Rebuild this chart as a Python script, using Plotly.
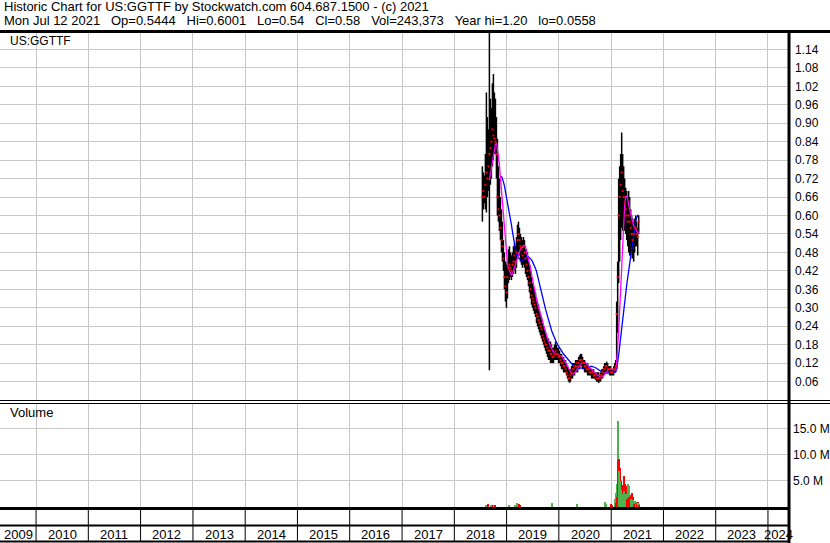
import pandas as pd
import plotly.graph_objects as go

# ---------------- data ----------------
start_date = "2018-07-16"   # first weekly bar; one bar per week

high = [0.76, 0.74, 0.73, 0.80, 1.00, 0.92, 0.88, 1.20, 0.98, 0.95,
        1.03, 1.06, 1.00, 0.98, 0.92, 0.85, 0.76, 0.72, 0.66, 0.62,
        0.58, 0.52, 0.48, 0.45, 0.44, 0.45, 0.49, 0.50, 0.48, 0.47,
        0.48, 0.50, 0.51, 0.50, 0.53, 0.57, 0.58, 0.56, 0.54, 0.53,
        0.52, 0.53, 0.52, 0.50, 0.49, 0.48, 0.46, 0.44, 0.42, 0.40,
        0.38, 0.37, 0.36, 0.35, 0.33, 0.32, 0.31, 0.29, 0.28, 0.27,
        0.25, 0.24, 0.23, 0.22, 0.21, 0.20, 0.20, 0.19, 0.19, 0.18,
        0.17, 0.17, 0.18, 0.19, 0.18, 0.17, 0.17, 0.16, 0.15, 0.15,
        0.14, 0.14, 0.13, 0.13, 0.12, 0.11, 0.10, 0.10, 0.10, 0.11,
        0.12, 0.12, 0.12, 0.13, 0.13, 0.13, 0.14, 0.145, 0.15, 0.15,
        0.14, 0.13, 0.13, 0.12, 0.12, 0.12, 0.11, 0.11, 0.10, 0.10,
        0.10, 0.10, 0.09, 0.09, 0.09, 0.09, 0.09, 0.08, 0.09, 0.10,
        0.10, 0.11, 0.12, 0.12, 0.125, 0.12, 0.11, 0.11, 0.11, 0.10,
        0.10, 0.11, 0.12, 0.13, 0.32, 0.45, 0.72, 0.76, 0.80, 0.87,
        0.80, 0.76, 0.72, 0.69, 0.68, 0.66, 0.68, 0.66, 0.62, 0.60,
        0.59, 0.58, 0.59, 0.60, 0.58, 0.56, 0.60]

low = [0.58, 0.62, 0.64, 0.62, 0.61, 0.66, 0.68, 0.097, 0.70, 0.72,
       0.76, 0.78, 0.80, 0.80, 0.72, 0.60, 0.58, 0.55, 0.52, 0.48,
       0.45, 0.42, 0.36, 0.32, 0.30, 0.33, 0.38, 0.39, 0.40, 0.39,
       0.40, 0.41, 0.42, 0.41, 0.43, 0.46, 0.48, 0.47, 0.45, 0.44,
       0.43, 0.44, 0.43, 0.41, 0.40, 0.39, 0.37, 0.35, 0.33, 0.31,
       0.30, 0.29, 0.28, 0.27, 0.25, 0.24, 0.23, 0.22, 0.21, 0.20,
       0.19, 0.18, 0.17, 0.16, 0.15, 0.14, 0.13, 0.13, 0.12, 0.12,
       0.12, 0.12, 0.13, 0.13, 0.13, 0.13, 0.12, 0.12, 0.11, 0.10,
       0.10, 0.09, 0.09, 0.09, 0.08, 0.07, 0.06, 0.056, 0.06, 0.07,
       0.07, 0.08, 0.08, 0.09, 0.09, 0.09, 0.10, 0.10, 0.11, 0.11,
       0.10, 0.10, 0.09, 0.09, 0.09, 0.08, 0.08, 0.08, 0.08, 0.07,
       0.07, 0.07, 0.07, 0.065, 0.06, 0.06, 0.055, 0.06, 0.06, 0.07,
       0.07, 0.08, 0.09, 0.09, 0.09, 0.09, 0.09, 0.08, 0.08, 0.08,
       0.08, 0.08, 0.09, 0.09, 0.10, 0.22, 0.38, 0.45, 0.52, 0.56,
       0.55, 0.56, 0.55, 0.54, 0.52, 0.50, 0.48, 0.47, 0.46, 0.48,
       0.46, 0.45, 0.48, 0.50, 0.50, 0.47, 0.54]

close = [0.66, 0.68, 0.66, 0.70, 0.74, 0.72, 0.76, 0.80, 0.82, 0.84,
         0.88, 0.86, 0.85, 0.84, 0.80, 0.66, 0.62, 0.60, 0.56, 0.52,
         0.50, 0.46, 0.40, 0.37, 0.35, 0.40, 0.43, 0.44, 0.43, 0.42,
         0.44, 0.45, 0.47, 0.45, 0.48, 0.52, 0.54, 0.52, 0.50, 0.49,
         0.47, 0.50, 0.48, 0.46, 0.44, 0.42, 0.40, 0.38, 0.36, 0.34,
         0.33, 0.32, 0.31, 0.30, 0.28, 0.27, 0.26, 0.25, 0.24, 0.23,
         0.21, 0.20, 0.19, 0.18, 0.18, 0.17, 0.16, 0.16, 0.15, 0.15,
         0.14, 0.14, 0.15, 0.16, 0.15, 0.15, 0.14, 0.14, 0.13, 0.12,
         0.12, 0.11, 0.11, 0.10, 0.09, 0.08, 0.07, 0.07, 0.08, 0.09,
         0.10, 0.10, 0.11, 0.11, 0.12, 0.11, 0.12, 0.13, 0.13, 0.13,
         0.12, 0.12, 0.11, 0.11, 0.10, 0.10, 0.10, 0.09, 0.09, 0.09,
         0.09, 0.08, 0.08, 0.08, 0.07, 0.07, 0.07, 0.07, 0.08, 0.08,
         0.09, 0.10, 0.10, 0.11, 0.11, 0.10, 0.10, 0.10, 0.09, 0.09,
         0.09, 0.10, 0.10, 0.11, 0.28, 0.40, 0.60, 0.66, 0.70, 0.74,
         0.68, 0.66, 0.64, 0.62, 0.60, 0.58, 0.60, 0.58, 0.56, 0.54,
         0.52, 0.54, 0.56, 0.56, 0.54, 0.53, 0.58]

# volume in millions of shares, split into up-day and down-day volume
vol_up = [0, 0, 0, 0, 0.3, 0, 0, 0, 0, 0.4,
          0, 0, 0.3, 0, 0, 0, 0, 0, 0, 0,
          0, 0, 0, 0, 0, 0, 0, 0.3, 0, 0,
          0, 0, 0, 0.3, 0, 0.7, 0, 0, 0, 0,
          0, 0, 0, 0, 0, 0, 0, 0, 0, 0,
          0, 0, 0, 0, 0, 0, 0, 0, 0, 0,
          0, 0, 0, 0, 0, 0, 0, 0, 0, 0,
          0.8, 0, 0, 0, 0, 0, 0, 0, 0, 0,
          0, 0, 0, 0, 0, 0, 0, 0, 0, 0,
          0, 0, 0, 0, 0, 0.6, 0, 0, 0, 0,
          0, 0, 0, 0, 0, 0, 0, 0, 0, 0,
          0, 0, 0, 0, 0, 0, 0, 0, 0, 0,
          0, 0, 1.0, 0.5, 0, 0, 0, 0, 0, 0,
          0, 0, 1.5, 2.7, 4.4, 16.5, 7.0, 5.0, 3.3, 2.5,
          2.0, 3.0, 1.5, 2.5, 2.0, 4.4, 4.0, 2.4, 1.5, 1.0,
          1.4, 0.8, 1.2, 0.5, 1.0, 0.8, 0.5]

vol_down = [0, 0, 0, 0, 0, 0, 0.6, 0, 0, 0,
            0, 0.4, 0, 0.4, 0, 0, 0, 0, 0, 0,
            0, 0, 0, 0, 0, 0, 0, 0, 0, 0,
            0, 0, 0, 0, 0, 0, 0, 0.5, 0.4, 0,
            0, 0, 0, 0, 0, 0, 0, 0, 0, 0,
            0, 0, 0, 0, 0, 0, 0, 0, 0, 0,
            0, 0, 0, 0, 0, 0, 0, 0, 0, 0,
            0, 0, 0, 0, 0, 0, 0, 0, 0, 0,
            0, 0, 0, 0, 0, 0, 0, 0, 0, 0,
            0, 0, 0, 0, 0, 0, 0, 0, 0, 0,
            0, 0, 0, 0, 0, 0, 0, 0, 0, 0,
            0, 0, 0, 0, 0, 0, 0, 0, 0, 0,
            0, 0, 0, 0, 0, 0, 0, 0, 0.6, 0.3,
            0, 0, 0, 0.8, 2.0, 9.0, 9.2, 7.5, 5.0, 4.3,
            3.0, 5.9, 4.5, 4.0, 1.5, 1.0, 2.0, 1.5, 2.4, 2.7,
            2.0, 0.6, 0.5, 0.8, 0.6, 1.0, 0.3]

price_ticks = [0.06, 0.12, 0.18, 0.24, 0.30, 0.36, 0.42, 0.48, 0.54, 0.60,
               0.66, 0.72, 0.78, 0.84, 0.90, 0.96, 1.02, 1.08, 1.14]
vol_ticks = [5, 10, 15]
vol_tick_labels = ["5.0 M", "10.0 M", "15.0 M"]
years = list(range(2009, 2025))

symbol = "US:GGTTF"
header_line1 = "Historic Chart for US:GGTTF by Stockwatch.com 604.687.1500 - (c) 2021"
header_fields = ["Mon Jul 12 2021", "Op=0.5444", "Hi=0.6001", "Lo=0.54", "Cl=0.58",
                 "Vol=243,373", "Year hi=1.20", "lo=0.0558"]

short_ma_weeks = 8
long_ma_weeks = 20

# ---------------- layout helpers ----------------
W, H = 830, 543
FONT = "Arial, Liberation Sans, sans-serif"
UP_COLOR = "#4db34d"
DOWN_COLOR = "#ff0000"


def fx(px):
    return px / W


def fy(py):
    return 1 - py / H


x_start = pd.Timestamp("2009-04-24")
x_end = pd.Timestamp("2024-05-27")
PLOT_RIGHT = 789

dates = pd.date_range(start_date, periods=len(close), freq="7D")
close_s = pd.Series(close, index=dates)
ma_short = close_s.rolling(short_ma_weeks).mean()
ma_long = close_s.rolling(long_ma_weeks).mean()

seg_x, seg_y = [], []
for d, h, l in zip(dates, high, low):
    seg_x += [d, d, None]
    seg_y += [l, h, None]

# taller volume bar behind, shorter one in front so both colours stay visible
back_y, back_c, front_y, front_c = [], [], [], []
for u, dn in zip(vol_up, vol_down):
    if u >= dn:
        back_y.append(u); back_c.append(UP_COLOR)
        front_y.append(dn); front_c.append(DOWN_COLOR)
    else:
        back_y.append(dn); back_c.append(DOWN_COLOR)
        front_y.append(u); front_c.append(UP_COLOR)

year_starts = [pd.Timestamp(f"{y}-01-01") for y in years[1:]]

fig = go.Figure()
fig.add_trace(go.Scatter(x=seg_x, y=seg_y, mode="lines",
                         line=dict(color="black", width=1.5),
                         connectgaps=False, hoverinfo="skip",
                         xaxis="x", yaxis="y"))
fig.add_trace(go.Scatter(x=dates, y=ma_long, mode="lines",
                         line=dict(color="#0000ff", width=1.3),
                         xaxis="x", yaxis="y"))
fig.add_trace(go.Scatter(x=dates, y=ma_short, mode="lines",
                         line=dict(color="#ff00ff", width=1.3),
                         xaxis="x", yaxis="y"))
fig.add_trace(go.Scatter(x=dates, y=close, mode="markers",
                         marker=dict(color="#ff0000", size=2, symbol="square",
                                     line=dict(width=0)),
                         xaxis="x", yaxis="y"))

bar_w = 7 * 86400000 * 1.2
fig.add_trace(go.Bar(x=dates, y=back_y, marker=dict(color=back_c, line=dict(width=0)),
                     width=bar_w, xaxis="x2", yaxis="y2"))
fig.add_trace(go.Bar(x=dates, y=front_y, marker=dict(color=front_c, line=dict(width=0)),
                     width=bar_w, xaxis="x2", yaxis="y2"))

grid = "#c8c8c8"
common_x = dict(range=[x_start, x_end], domain=[0, fx(PLOT_RIGHT)],
                tickvals=year_starts, showticklabels=False, ticks="",
                showgrid=True, gridcolor=grid, gridwidth=1,
                zeroline=False, showline=False)
fig.update_layout(
    width=W, height=H,
    margin=dict(l=0, r=0, t=0, b=0),
    paper_bgcolor="white", plot_bgcolor="white",
    showlegend=False, barmode="overlay", bargap=0,
    font=dict(family=FONT, size=12, color="black"),
    xaxis=dict(anchor="y", **common_x),
    xaxis2=dict(anchor="y2", matches="x", **common_x),
    yaxis=dict(domain=[fy(400), fy(31)], range=[0, 1.20], side="right",
               tickvals=price_ticks, tickformat=".2f", ticks="",
               ticklabelstandoff=5,
               showgrid=True, gridcolor=grid, gridwidth=1,
               zeroline=False, showline=False,
               tickfont=dict(family=FONT, size=12, color="black")),
    yaxis2=dict(domain=[fy(507), fy(404)], range=[0, 19.8], side="right",
                tickvals=vol_ticks, ticktext=vol_tick_labels, ticks="",
                ticklabelstandoff=3,
                showgrid=True, gridcolor=grid, gridwidth=1,
                zeroline=False, showline=False,
                tickfont=dict(family=FONT, size=12, color="black")),
)

shapes = []


def hline(py, x0px, x1px, w):
    shapes.append(dict(type="line", xref="paper", yref="paper",
                       x0=fx(x0px), x1=fx(x1px), y0=fy(py), y1=fy(py),
                       line=dict(color="black", width=w)))


hline(31.5, 0, W, 3)        # under the header
hline(400.5, 0, W, 1)       # double separator price / volume
hline(403.5, 0, W, 1)
hline(508.5, 0, PLOT_RIGHT, 3)  # volume baseline
hline(525.5, 0, PLOT_RIGHT, 2)
hline(541.5, 0, PLOT_RIGHT, 2)
shapes.append(dict(type="line", xref="paper", yref="paper",
                   x0=fx(PLOT_RIGHT), x1=fx(PLOT_RIGHT), y0=fy(31), y1=0,
                   line=dict(color="black", width=3)))
for ys in year_starts:
    shapes.append(dict(type="line", xref="x2", yref="paper",
                       x0=ys, x1=ys, y0=fy(509), y1=fy(541),
                       line=dict(color="black", width=1)))

annotations = []
for y in years:
    left = max(pd.Timestamp(f"{y}-01-01"), x_start)
    right = min(pd.Timestamp(f"{y + 1}-01-01"), x_end)
    mid = left + (right - left) / 2
    annotations.append(dict(x=mid, xref="x2", y=fy(534), yref="paper",
                            text=str(y), showarrow=False, xanchor="center",
                            yanchor="middle",
                            font=dict(family=FONT, size=13, color="black")))

gap = "\u00a0\u00a0\u00a0"
header_line2 = gap.join(header_fields)
annotations += [
    dict(x=fx(2), y=fy(6.5), xref="paper", yref="paper", text=header_line1,
         showarrow=False, xanchor="left", yanchor="middle",
         font=dict(family=FONT, size=13, color="black")),
    dict(x=fx(2), y=fy(20.5), xref="paper", yref="paper", text=header_line2,
         showarrow=False, xanchor="left", yanchor="middle",
         font=dict(family=FONT, size=13, color="black")),
    dict(x=fx(8), y=fy(41), xref="paper", yref="paper", text=symbol,
         showarrow=False, xanchor="left", yanchor="middle",
         font=dict(family=FONT, size=12, color="black")),
    dict(x=fx(8), y=fy(413), xref="paper", yref="paper", text="Volume",
         showarrow=False, xanchor="left", yanchor="middle",
         font=dict(family=FONT, size=13, color="black")),
]

fig.update_layout(shapes=shapes, annotations=annotations)
fig.write_html("out.html", config={"displayModeBar": False},
               post_script="document.body.style.margin='0px';")
